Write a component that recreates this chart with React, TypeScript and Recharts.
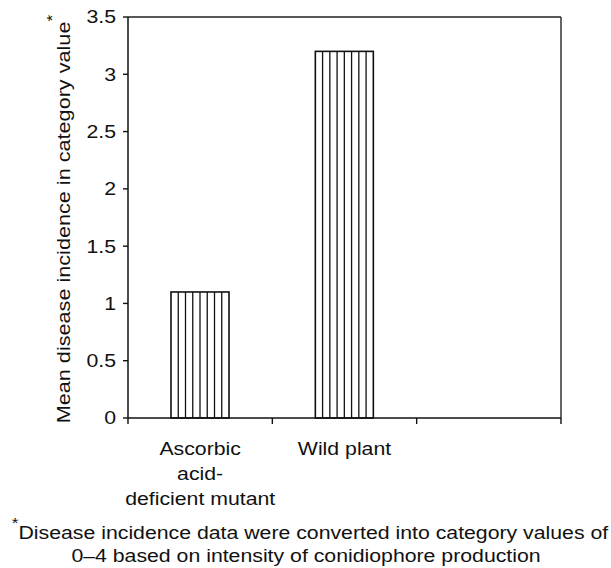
import { BarChart, Bar, XAxis, YAxis, ReferenceLine } from 'recharts'

// categories, values and ticks
const categories = ['Ascorbic acid-deficient mutant', 'Wild plant', '']
const categoryLines = [['Ascorbic', 'acid-', 'deficient mutant'], ['Wild plant'], []]
const meanIncidence = [1.1, 3.2, null]
const yTicks = [0, 0.5, 1, 1.5, 2, 2.5, 3, 3.5]
const xTicks = [0, 0.5, 1, 1.5, 2, 2.5, 3]

const yLabel = 'Mean disease incidence in category value'
const footnote1 = 'Disease incidence data were converted into category values of'
const footnote2 = '0–4 based on intensity of conidiophore production'

const FONT = '"Liberation Sans", Arial, Helvetica, sans-serif'
const FS = 18.5
const SX = 1.15 // source glyphs are a bit wider than Arial

const data = categories.map((name, i) => ({
  name,
  pos: i + 0.5,
  value: meanIncidence[i],
}))

const YTick = (props: any) => {
  const { x, y, payload } = props
  return (
    <text
      transform={`translate(${x},${y}) scale(${SX},1)`}
      textAnchor="end"
      dominantBaseline="central"
      fontFamily={FONT}
      fontSize={FS}
      fill="#111"
    >
      {String(payload.value)}
    </text>
  )
}

const XTick = (props: any) => {
  const { x, y, payload } = props
  const v = payload.value
  if (Number.isInteger(v)) {
    return <line x1={x} x2={x} y1={y} y2={y + 6} stroke="#111" strokeWidth={1.4} />
  }
  const lines = categoryLines[Math.floor(v)] || []
  return (
    <g>
      {lines.map((t, i) => (
        <text
          key={i}
          transform={`translate(${x},${y + 37 + i * 25}) scale(${SX},1)`}
          textAnchor="middle"
          fontFamily={FONT}
          fontSize={FS}
          fill="#111"
        >
          {t}
        </text>
      ))}
    </g>
  )
}

// white bar with vertical hatching
const StripedBar = (props: any) => {
  const { x, y, width, height } = props
  if (!height || height <= 0) return null
  const n = 8
  const lines = []
  for (let i = 1; i < n; i++) {
    const lx = x + (width * i) / n
    lines.push(<line key={i} x1={lx} x2={lx} y1={y} y2={y + height} stroke="#111" strokeWidth={1.3} />)
  }
  return (
    <g>
      <rect x={x} y={y} width={width} height={height} fill="#fff" stroke="#111" strokeWidth={1.6} />
      {lines}
    </g>
  )
}

export default function App() {
  return (
    <div style={{ position: 'absolute', left: 0, top: 0, width: 611, height: 568, background: '#fff' }}>
      <BarChart
        width={611}
        height={568}
        data={data}
        margin={{ top: 17, right: 50, left: 68, bottom: 120 }}
      >
        <XAxis
          dataKey="pos"
          type="number"
          domain={[0, 3]}
          ticks={xTicks}
          interval={0}
          allowDataOverflow
          tickLine={false}
          tickSize={0}
          tickMargin={0}
          axisLine={{ stroke: '#111', strokeWidth: 1.5 }}
          tick={<XTick />}
          height={30}
        />
        <YAxis
          domain={[0, 3.5]}
          ticks={yTicks}
          interval={0}
          width={60}
          tickSize={5}
          tickMargin={7}
          tickLine={{ stroke: '#111', strokeWidth: 1.4 }}
          axisLine={{ stroke: '#111', strokeWidth: 1.5 }}
          tick={<YTick />}
        />
        <ReferenceLine y={3.5} stroke="#222" strokeWidth={1.5} />
        <ReferenceLine x={3} stroke="#333" strokeWidth={1.5} />
        <Bar dataKey="value" barSize={58} shape={<StripedBar />} isAnimationActive={false} />
      </BarChart>
      <svg
        width={611}
        height={568}
        style={{ position: 'absolute', left: 0, top: 0, pointerEvents: 'none' }}
      >
        <text
          transform={`translate(70,219) rotate(-90) scale(1.17,1)`}
          textAnchor="middle"
          fontFamily={FONT}
          fontSize={FS}
          fill="#111"
        >
          {yLabel}
          <tspan fontSize={15} dy={-13}>*</tspan>
        </text>
        <text
          transform={`translate(310,539) scale(${SX},1)`}
          textAnchor="middle"
          fontFamily={FONT}
          fontSize={FS}
          fill="#111"
        >
          <tspan fontSize={15} dy={-11}>*</tspan>
          <tspan dy={11}>{footnote1}</tspan>
        </text>
        <text
          transform={`translate(306,562) scale(${SX},1)`}
          textAnchor="middle"
          fontFamily={FONT}
          fontSize={FS}
          fill="#111"
        >
          {footnote2}
        </text>
      </svg>
    </div>
  )
}
